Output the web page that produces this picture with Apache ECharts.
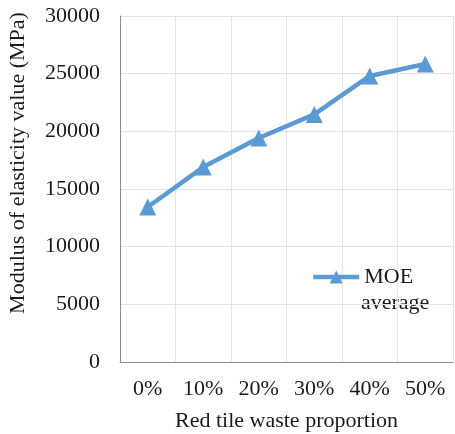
<!DOCTYPE html>
<html><head><meta charset="utf-8">
<script src="https://cdn.jsdelivr.net/npm/echarts@6/dist/echarts.min.js"></script>
<style>html,body{margin:0;padding:0;background:#fff}#c{width:455px;height:434px}</style>
</head><body><div id="c"></div>
<script>
var categories = ['0%', '10%', '20%', '30%', '40%', '50%'];
var moeAverage = [13440, 16900, 19420, 21470, 24800, 25840];
var seriesName = 'MOE average';
var legendLines = ['MOE', 'average'];
var xTitle = 'Red tile waste proportion';
var yTitle = 'Modulus of elasticity value (MPa)';

var font = '"Liberation Serif", "Times New Roman", serif';
var txt = '#1a1a1a';
var chart = echarts.init(document.getElementById('c'));
chart.setOption({
  animation: false,
  backgroundColor: '#fff',
  grid: {left: 120, right: 2, top: 16, bottom: 72, containLabel: false, outerBoundsMode: 'none'},
  legend: {
    show: true,
    left: 306, top: 261,
    itemWidth: 46, itemHeight: 16, itemGap: 4,
    data: [seriesName],
    formatter: function () { return legendLines[0]; },
    lineStyle: {width: 4.5},
    textStyle: {fontFamily: font, fontSize: 22, color: txt}
  },
  xAxis: {
    type: 'category', data: categories, boundaryGap: true,
    axisLine: {show: true, lineStyle: {color: '#8c8c8c', width: 1}},
    axisTick: {show: false},
    axisLabel: {fontFamily: font, fontSize: 22, color: txt, margin: 16, interval: 0},
    splitLine: {show: true, lineStyle: {color: '#e3e3e3', width: 1}},
    name: xTitle, nameLocation: 'middle', nameGap: 48,
    nameTextStyle: {fontFamily: font, fontSize: 22, color: txt}
  },
  yAxis: {
    type: 'value', min: 0, max: 30000, interval: 5000,
    axisLine: {show: true, lineStyle: {color: '#8c8c8c', width: 1}},
    axisTick: {show: false},
    axisLabel: {fontFamily: font, fontSize: 22, color: txt, margin: 20,
      formatter: function (v) { return String(v); }},
    splitLine: {show: true, lineStyle: {color: '#e3e3e3', width: 1}}
  },
  graphic: [{
    type: 'text', x: 18, y: 163, rotation: Math.PI / 2,
    style: {text: yTitle, font: '22px ' + font, fill: txt, textAlign: 'center', textVerticalAlign: 'middle'}
  }, {
    type: 'text', x: 361, y: 303,
    style: {text: legendLines[1], font: '22px ' + font, fill: txt, textAlign: 'left', textVerticalAlign: 'middle'}
  }],
  series: [{
    name: seriesName, type: 'line', data: moeAverage,
    symbol: 'triangle', symbolSize: 17,
    lineStyle: {color: '#5B9BD5', width: 4.5},
    itemStyle: {color: '#5B9BD5'}
  }]
});
</script></body></html>
